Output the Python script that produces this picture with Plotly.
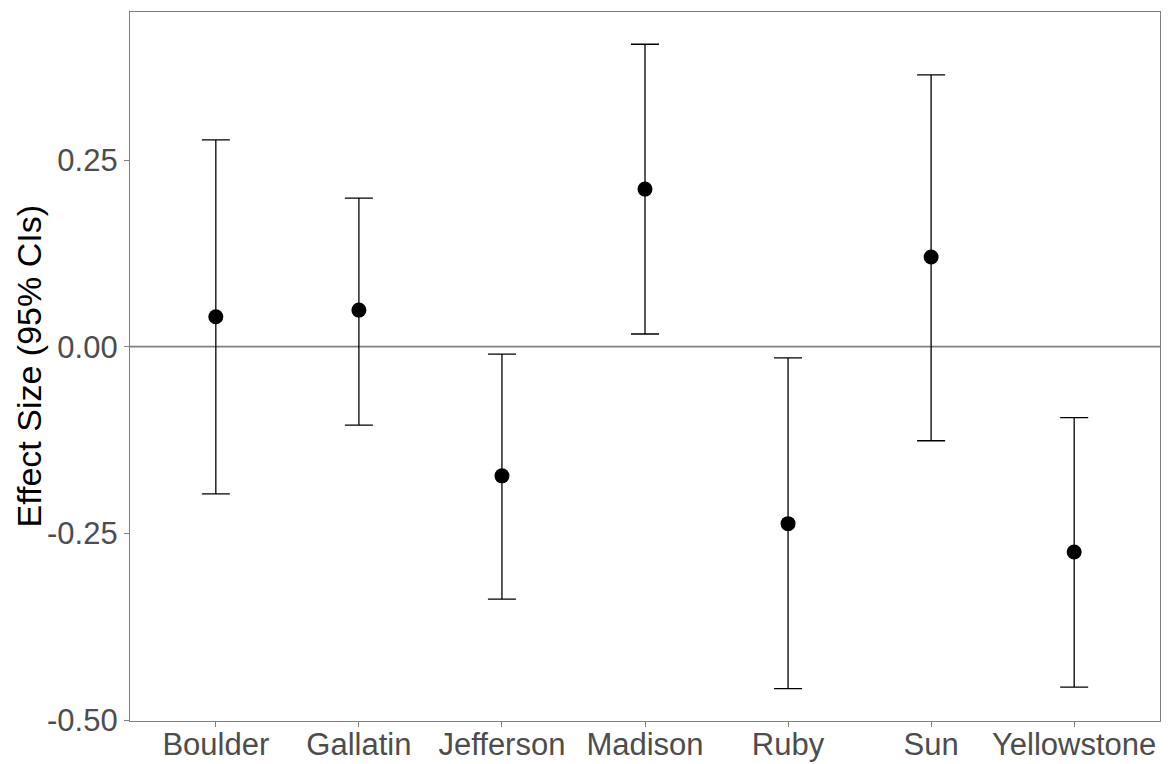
import plotly.graph_objects as go

categories = ["Boulder", "Gallatin", "Jefferson", "Madison", "Ruby", "Sun", "Yellowstone"]
effect = [0.040, 0.049, -0.173, 0.211, -0.237, 0.120, -0.275]
upper = [0.277, 0.199, -0.010, 0.405, -0.015, 0.364, -0.095]
lower = [-0.197, -0.105, -0.338, 0.017, -0.458, -0.126, -0.456]
ytick_vals = [-0.50, -0.25, 0.00, 0.25]
ytick_text = ["-0.50", "-0.25", "0.00", "0.25"]

err_plus = [u - e for u, e in zip(upper, effect)]
err_minus = [e - l for e, l in zip(effect, lower)]

FONT = "Liberation Sans, Arial, sans-serif"
L, R, T, B = 130, 11, 12, 43
W, H = 1171, 764
pw = W - L - R

fig = go.Figure()
fig.add_hline(y=0, line=dict(color="#808080", width=1.6), layer="below")
fig.add_trace(go.Scatter(
    x=categories, y=effect, mode="markers",
    marker=dict(color="black", size=15),
    error_y=dict(type="data", symmetric=False, array=err_plus, arrayminus=err_minus,
                 color="black", thickness=1.3, width=14),
    showlegend=False,
))

fig.update_layout(
    width=W, height=H,
    margin=dict(l=L, r=R, t=T, b=B),
    paper_bgcolor="white", plot_bgcolor="white",
    font=dict(family=FONT, size=31, color="#4D4D4D"),
    annotations=[dict(text="Effect Size (95% CIs)", textangle=-90, xref="paper", yref="paper",
                      x=(28 - L) / pw, y=0.5, xanchor="center", yanchor="middle", showarrow=False,
                      font=dict(size=34, color="black", family=FONT))],
)
fig.update_xaxes(
    type="category", range=[-0.6, 6.6], showgrid=False, zeroline=False, automargin=False,
    showline=True, linecolor="#7F7F7F", linewidth=1.3, mirror=True,
    ticks="outside", ticklen=5, tickcolor="#7F7F7F", tickwidth=1.3,
    ticklabelstandoff=-9,
    tickfont=dict(size=31, color="#4D4D4D"),
)
fig.update_yaxes(
    range=[-0.5013, 0.4482], showgrid=False, zeroline=False, automargin=False,
    showline=True, linecolor="#7F7F7F", linewidth=1.3, mirror=True,
    ticks="outside", ticklen=5, tickcolor="#7F7F7F", tickwidth=1.3,
    tickvals=ytick_vals, ticktext=ytick_text,
    tickfont=dict(size=31, color="#4D4D4D"),
)

fig.write_html("out.html")
